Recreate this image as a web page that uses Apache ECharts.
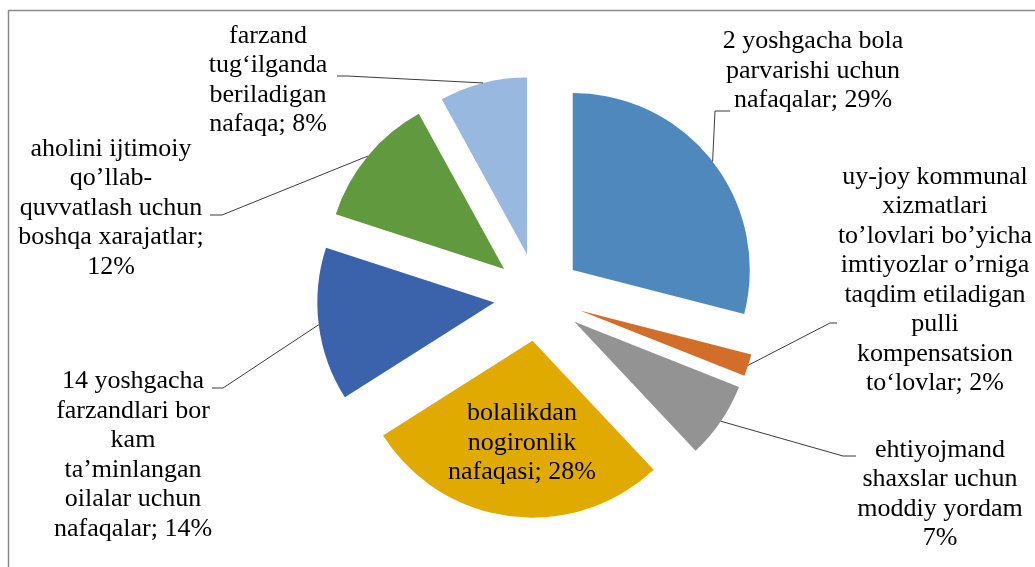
<!DOCTYPE html>
<html>
<head>
<meta charset="utf-8">
<script src="https://cdn.jsdelivr.net/npm/echarts@6/dist/echarts.min.js"></script>
<style>
  html, body { margin: 0; padding: 0; background: #fff; }
  #chart { width: 1035px; height: 567px; }
</style>
</head>
<body>
<div id="chart"></div>
<script>
// slice names (with the line breaks used in the picture), values in %
var names = [
    '2 yoshgacha bola\nparvarishi uchun\nnafaqalar',
    'uy-joy kommunal\nxizmatlari\nto’lovlari bo’yicha\nimtiyozlar o’rniga\ntaqdim etiladigan\npulli\nkompensatsion\nto‘lovlar',
    'ehtiyojmand\nshaxslar uchun\nmoddiy yordam',
    'bolalikdan\nnogironlik\nnafaqasi',
    '14 yoshgacha\nfarzandlari bor\nkam\nta’minlangan\noilalar uchun\nnafaqalar',
    'aholini ijtimoiy\nqo’llab-\nquvvatlash uchun\nboshqa xarajatlar',
    'farzand\ntug‘ilganda\nberiladigan\nnafaqa'
];
var values = [29, 2, 7, 28, 14, 12, 8];
var separators = ['; ', '; ', '\n', '; ', '; ', ';\n', '; '];
var colors = ['#4F88BD', '#D26E2A', '#939393', '#E0AA00', '#3B63AB', '#619A3E', '#99B8DF'];

// layout
var CX = 538, CY = 297, R = 177, OFFSET = 44;
// [label centre x, label centre y, elbow point, end point]
var labelPos = [
    [813, 71, [715, 111], [730, 111]],
    [935, 280, [830, 323], [837, 323]],
    [940, 494, [843, 456], [856, 456]],
    [522, 443, null, null],
    [133, 455, [223, 388], [212, 388]],
    [111, 208, [222, 215], [210, 215]],
    [268, 80, [347, 76], [337, 76]]
];

var total = values.reduce(function (a, b) { return a + b; }, 0);

// point in the middle of the outer arc of an exploded slice
function arcMid(idx) {
    var before = 0;
    for (var k = 0; k < idx; k++) before += values[k];
    var theta = (before + values[idx] / 2) / total * 2 * Math.PI;
    var d = OFFSET + R;
    return [CX + d * Math.sin(theta), CY - d * Math.cos(theta)];
}

var sliceData = [];
var labelData = [];
for (var i = 0; i < values.length; i++) {
    sliceData.push({
        name: names[i],
        value: values[i],
        selected: true,
        itemStyle: { color: colors[i] }
    });
    var lab = { name: names[i], value: values[i] };
    if (i === 3) {
        lab.label = { position: 'inside' };
        lab.labelLine = { show: false };
    }
    labelData.push(lab);
}

var chartDom = document.getElementById('chart');
var myChart = echarts.init(chartDom);

var option = {
    animation: false,
    graphic: [{
        type: 'rect',
        shape: { x: 8.5, y: 10.5, width: 1100, height: 700 },
        style: { fill: 'none', stroke: '#8a8a8a', lineWidth: 1.5 },
        silent: true
    }],
    series: [
        {
            // exploded slices
            type: 'pie',
            center: [CX, CY],
            radius: R,
            startAngle: 90,
            clockwise: true,
            selectedMode: 'multiple',
            selectedOffset: OFFSET,
            silent: true,
            label: { show: false },
            labelLine: { show: false },
            data: sliceData
        },
        {
            // labels and leader lines
            type: 'pie',
            center: [CX, CY],
            radius: R,
            startAngle: 90,
            clockwise: true,
            silent: true,
            z: 3,
            avoidLabelOverlap: false,
            itemStyle: { color: 'rgba(0,0,0,0)' },
            label: {
                show: true,
                position: 'outside',
                fontFamily: 'Liberation Serif',
                fontSize: 26,
                lineHeight: 29.5,
                color: '#000',
                align: 'center',
                formatter: function (p) {
                    return p.name + separators[p.dataIndex] + p.value + '%';
                }
            },
            labelLine: {
                show: true,
                lineStyle: { color: '#3a3a3a', width: 1 }
            },
            labelLayout: function (params) {
                var L = labelPos[params.dataIndex];
                var res = { x: L[0], y: L[1], align: 'center', verticalAlign: 'middle' };
                if (L[2]) {
                    res.labelLinePoints = [arcMid(params.dataIndex), L[2], L[3]];
                }
                return res;
            },
            data: labelData
        }
    ]
};

option && myChart.setOption(option);
</script>
</body>
</html>
